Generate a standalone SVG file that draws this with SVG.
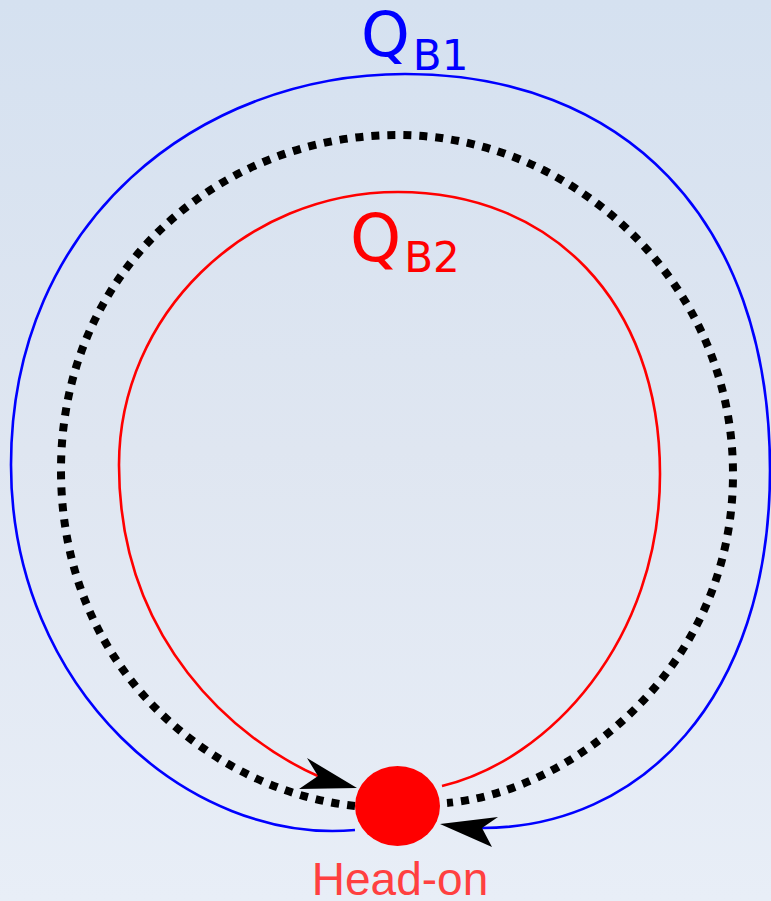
<svg xmlns="http://www.w3.org/2000/svg" width="771" height="901" viewBox="0 0 771 901">
<defs>
<linearGradient id="bg" x1="0" y1="0" x2="0" y2="1">
<stop offset="0" stop-color="#d5e1f0"/>
<stop offset="0.5" stop-color="#dfe6f1"/>
<stop offset="1" stop-color="#e8eef7"/>
</linearGradient>
</defs>
<style>
.blue{fill:none;stroke:#0000ff;stroke-width:2.6}
.red{fill:none;stroke:#ff0000;stroke-width:2.6}
.dot{fill:none;stroke:#000;stroke-width:8;stroke-dasharray:8 8}
.head{fill:#000;stroke:none}
.lbl{font-family:"DejaVu Sans",sans-serif}
</style>
<rect width="771" height="901" fill="url(#bg)"/>
<g id="connectors">
<path class="blue" d="M355 830 C190 845 11 690 11 465 C11 220 200 74 405 74 C620 74 770 215 770 470 C770 700 640 828 482 828"/>
<path class="red" d="M442 786 C550 760 660 640 660 474 C660 300 550 192 398 192 C245 192 119 315 119 465 C119 640 235 740 320 777"/>
<path class="dot" d="M355 806 C220 792 61 676 61 470 C61 270 220 135 398 135 C570 135 733 280 733 474 C733 670 570 792 447 803"/>
<path class="head" d="M357 788 L307 758 L318 776 L299 789 Z"/>
<path class="head" d="M440 824 L498 817 L482 828 L492 847 Z"/>
</g>
<g id="head-on">
<ellipse cx="397.5" cy="806" rx="42.5" ry="40" fill="#ff0000"/>
<text x="400" y="895" text-anchor="middle" font-family="Liberation Sans, Arial, sans-serif" font-size="46" fill="#ff4040">Head-on</text>
</g>
<g id="qb1">
<text class="lbl" x="361" y="56" font-size="62" fill="#0000ff">Q<tspan font-size="42" dx="3" dy="14">B1</tspan></text>
</g>
<g id="qb2">
<text class="lbl" x="350" y="261" font-size="65" fill="#ff0000">Q<tspan font-size="42" dx="3" dy="11">B2</tspan></text>
</g>
</svg>
